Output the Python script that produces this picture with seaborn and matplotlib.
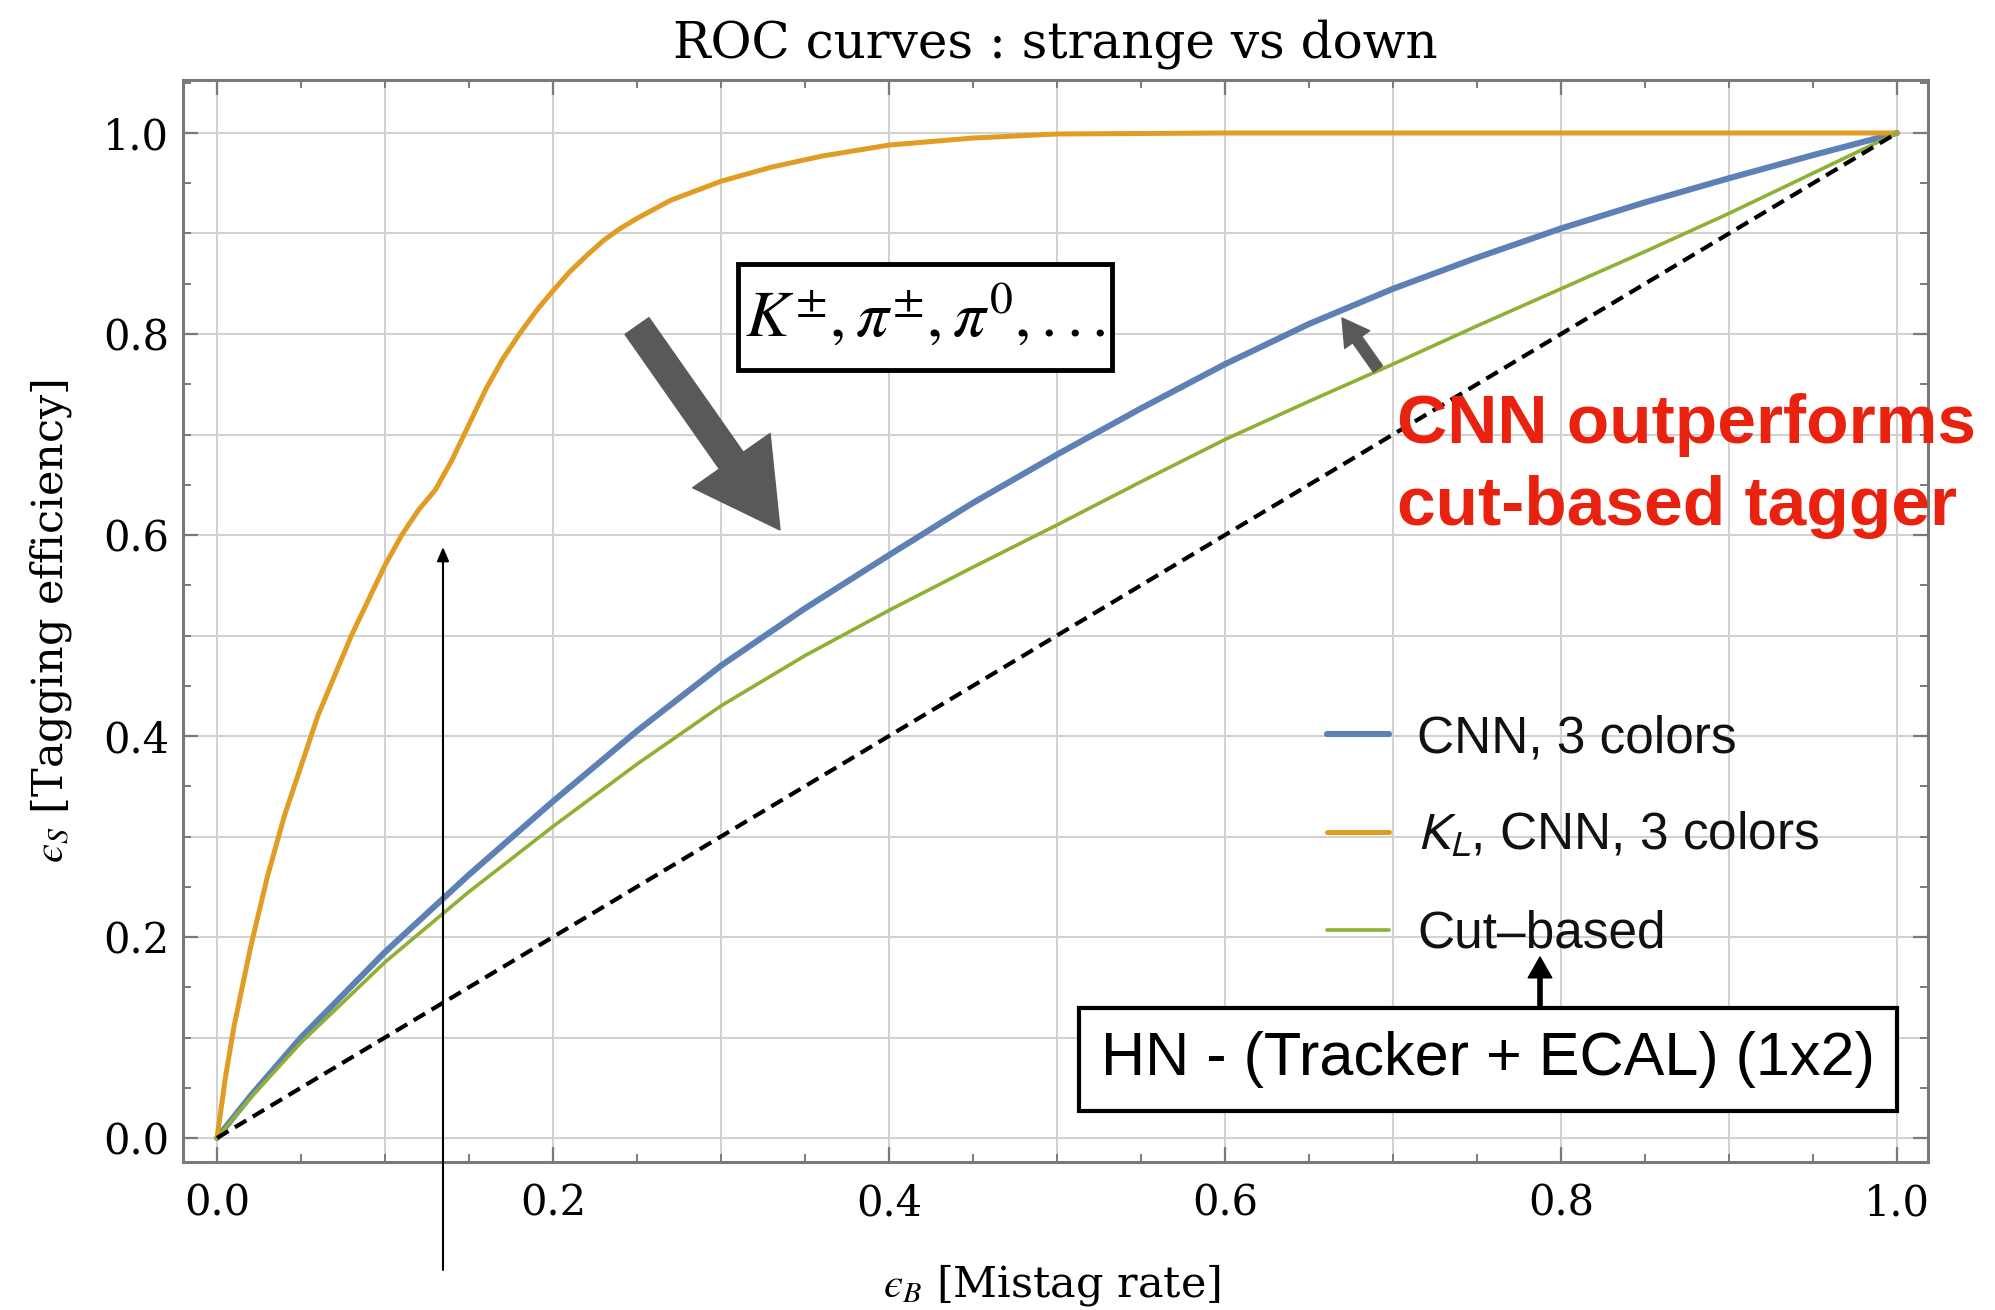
import numpy as np
import pandas as pd
import matplotlib
matplotlib.use("Agg")
import matplotlib.pyplot as plt
import seaborn as sns
from matplotlib.patches import Rectangle
from matplotlib.font_manager import FontProperties
from matplotlib.ticker import MultipleLocator, FormatStrFormatter

# ---------------- data ----------------
cnn_x = [0.0, 0.02, 0.05, 0.1, 0.15, 0.2, 0.25, 0.3, 0.35, 0.4, 0.45, 0.5,
         0.55, 0.6, 0.65, 0.7, 0.75, 0.8, 0.85, 0.9, 0.95, 1.0]
cnn_y = [0.0, 0.042, 0.1, 0.185, 0.262, 0.335, 0.405, 0.47, 0.527, 0.58, 0.632, 0.68,
         0.726, 0.77, 0.81, 0.845, 0.876, 0.905, 0.931, 0.955, 0.978, 1.0]

kl_x = [0.0, 0.005, 0.01, 0.02, 0.03, 0.04, 0.05, 0.06, 0.07, 0.08, 0.09, 0.10,
        0.11, 0.12, 0.13, 0.14, 0.15, 0.16, 0.17, 0.18, 0.19, 0.20, 0.21, 0.22,
        0.23, 0.24, 0.25, 0.27, 0.30, 0.33, 0.36, 0.40, 0.45, 0.50, 0.6, 0.8, 1.0]
kl_y = [0.0, 0.06, 0.11, 0.19, 0.26, 0.32, 0.37, 0.42, 0.46, 0.50, 0.535, 0.57,
        0.60, 0.625, 0.645, 0.675, 0.71, 0.745, 0.775, 0.80, 0.823, 0.843, 0.862, 0.878,
        0.893, 0.905, 0.915, 0.933, 0.952, 0.966, 0.977, 0.988, 0.995, 0.999, 1.0, 1.0, 1.0]

cut_x = [0.0, 0.02, 0.05, 0.1, 0.15, 0.2, 0.25, 0.3, 0.35, 0.4, 0.45, 0.5,
         0.55, 0.6, 0.65, 0.7, 0.75, 0.8, 0.85, 0.9, 0.95, 1.0]
cut_y = [0.0, 0.04, 0.095, 0.175, 0.245, 0.31, 0.372, 0.43, 0.48, 0.525, 0.568, 0.61,
         0.653, 0.695, 0.733, 0.77, 0.808, 0.845, 0.882, 0.92, 0.96, 1.0]

diag_x = [0.0, 1.0]
diag_y = [0.0, 1.0]

series_labels = ["CNN, 3 colors", r"$K_L$, CNN, 3 colors", "Cut\u2013based"]
title_text = "ROC curves : strange vs down"
xlabel_text = "$\u03f5_B$ [Mistag rate]"
ylabel_text = "$\u03f5_S$ [Tagging efficiency]"
tick_values = [0.0, 0.2, 0.4, 0.6, 0.8, 1.0]
particles_text = r"$K^{\pm},\pi^{\pm},\pi^{0},...$"
hn_text = "HN - (Tracker + ECAL) (1x2)"
red_lines = ["CNN outperforms", "cut-based tagger"]

# ---------------- style ----------------
sns.set_theme(style="white")
plt.rcParams["font.family"] = ["DejaVu Serif"]
plt.rcParams["mathtext.fontset"] = "dejavuserif"

BLUE = "#5E81B5"
ORANGE = "#E19C24"
GREEN = "#8FB032"
FRAME = "#7a7a7a"
GRID = "#d2d2d2"

W, H = 1995, 1310
fig = plt.figure(figsize=(W / 100, H / 100), dpi=100)
fig.patch.set_facecolor("white")
L, R, T, B = 183, 1928, 80, 1162
ax = fig.add_axes([L / W, 1 - B / H, (R - L) / W, (B - T) / H])
ax.set_facecolor("white")

# grid lines every 0.1
for v in np.round(np.arange(0, 1.0001, 0.1), 2):
    ax.axvline(v, color=GRID, lw=1.5, zorder=0.5)
    ax.axhline(v, color=GRID, lw=1.5, zorder=0.5)

sns.lineplot(x=cnn_x, y=cnn_y, color=BLUE, linewidth=4.4, ax=ax,
             estimator=None, sort=False, zorder=2)
sns.lineplot(x=kl_x, y=kl_y, color=ORANGE, linewidth=3.6, ax=ax,
             estimator=None, sort=False, zorder=2.1)
sns.lineplot(x=cut_x, y=cut_y, color=GREEN, linewidth=2.6, ax=ax,
             estimator=None, sort=False, zorder=2.2)
sns.lineplot(x=diag_x, y=diag_y, color="black", linewidth=3.0, ax=ax,
             estimator=None, sort=False, linestyle=(0, (3.2, 1.8)), zorder=2.3)
lines = ax.get_lines()
data_lines = [ln for ln in lines if len(ln.get_xdata()) > 2]

# axes limits and ticks
x0 = 217; xs = 1680
y0 = 1138; ys = 1005
ax.set_xlim((L - x0) / xs, (R - x0) / xs)
ax.set_ylim((y0 - B) / ys, (y0 - T) / ys)
ax.set_xticks(tick_values)
ax.set_yticks(tick_values)
ax.xaxis.set_major_formatter(FormatStrFormatter("%.1f"))
ax.yaxis.set_major_formatter(FormatStrFormatter("%.1f"))
ax.xaxis.set_minor_locator(MultipleLocator(0.05))
ax.yaxis.set_minor_locator(MultipleLocator(0.05))
ax.tick_params(which="both", direction="in", top=True, right=True,
               bottom=True, left=True, color=FRAME)
ax.tick_params(which="major", length=11, width=1.6)
ax.tick_params(which="minor", length=6, width=1.4)
ax.tick_params(axis="x", which="major", labelsize=30, pad=15, labelcolor="black")
ax.tick_params(axis="y", which="major", labelsize=30, pad=10, labelcolor="black")
for sp in ax.spines.values():
    sp.set_color(FRAME)
    sp.set_linewidth(2.2)
    sp.set_visible(True)

ax.set_title(title_text, fontsize=36, pad=16, color="black")
ax.set_xlabel(xlabel_text, fontsize=31, color="black", math_fontfamily="stix")
ax.set_ylabel(ylabel_text, fontsize=31, color="black", math_fontfamily="stix")
ax.xaxis.set_label_coords(0.498, -0.1137)
ax.xaxis.label.set_va("center")
ax.yaxis.set_label_coords(-0.0756, 0.5)
ax.yaxis.label.set_va("center")

# legend
leg_font = FontProperties(family="Liberation Sans", size=37, math_fontfamily="stixsans")
leg = ax.legend(handles=data_lines[:3], labels=series_labels, prop=leg_font,
                loc="upper left", bbox_to_anchor=(0.6556, 0.414), frameon=False,
                borderaxespad=0, borderpad=0, handlelength=1.2, handletextpad=0.56,
                labelspacing=0.95)
for t in leg.get_texts():
    t.set_color("#111111")

def dx(px):
    return (px - x0) / xs

def dy(py):
    return (y0 - py) / ys

# particles box
ax.add_patch(Rectangle((dx(738), dy(370)), dx(1112) - dx(738), dy(264) - dy(370),
                       facecolor="white", edgecolor="black", lw=3.5, zorder=5,
                       clip_on=False))
ax.text(dx(925), dy(317), particles_text, fontsize=47, math_fontfamily="stix",
        ha="center", va="center", zorder=6, color="black")

# HN box
ax.add_patch(Rectangle((dx(1079), dy(1111)), dx(1897) - dx(1079), dy(1008) - dy(1111),
                       facecolor="white", edgecolor="black", lw=3.0, zorder=5,
                       clip_on=False))
ax.text(dx(1488), dy(1060), hn_text, fontsize=44, family="Liberation Sans",
        ha="center", va="center", zorder=6, color="black")

# red annotation text
ax.text(dx(1397), dy(443), red_lines[0], fontsize=50, family="Liberation Sans",
        fontweight="bold", color="#E8220E", ha="left", va="baseline", zorder=7)
ax.text(dx(1397), dy(525), red_lines[1], fontsize=50, family="Liberation Sans",
        fontweight="bold", color="#E8220E", ha="left", va="baseline", zorder=7)

# arrows
ax.annotate("", xy=(dx(780), dy(530)), xytext=(dx(637), dy(326)),
            arrowprops=dict(arrowstyle="simple,head_length=61,head_width=68,tail_width=21",
                            mutation_scale=1, color="#595959", shrinkA=0, shrinkB=0),
            zorder=6)
ax.annotate("", xy=(dx(1342), dy(318)), xytext=(dx(1378), dy(369)),
            arrowprops=dict(arrowstyle="simple,head_length=19,head_width=22,tail_width=8",
                            mutation_scale=1, color="#595959", shrinkA=0, shrinkB=0),
            zorder=6)
ax.annotate("", xy=(dx(1540), dy(957)), xytext=(dx(1540), dy(1008)),
            arrowprops=dict(arrowstyle="simple,head_length=15,head_width=17,tail_width=3",
                            mutation_scale=1, color="black", shrinkA=0, shrinkB=0),
            zorder=6)
ax.annotate("", xy=(dx(443), dy(547)), xytext=(dx(443), dy(1270)),
            xycoords="data", textcoords="data",
            arrowprops=dict(arrowstyle="-|>,head_length=0.7,head_width=0.3",
                            mutation_scale=12, color="black", lw=1.5,
                            shrinkA=0, shrinkB=0),
            zorder=6, annotation_clip=False)

fig.savefig("out.png", dpi=100, facecolor="white")
